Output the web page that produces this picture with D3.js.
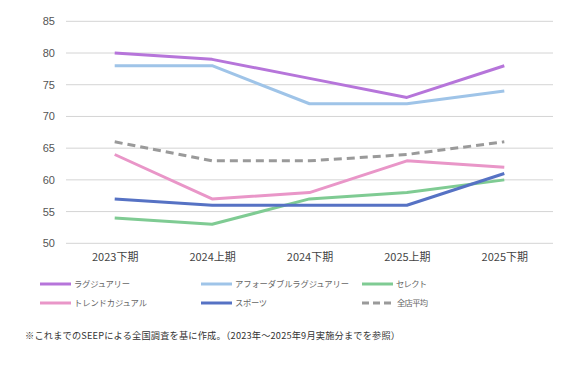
<!DOCTYPE html>
<html><head><meta charset="utf-8">
<script src="https://cdn.jsdelivr.net/npm/d3@7"></script>
<style>body{margin:0;background:#fff}svg{display:block}</style>
</head><body>
<svg id="c" width="575" height="367"></svg>
<script>
const categories = ["2023下期","2024上期","2024下期","2025上期","2025下期"];
const seriesNames = ["ラグジュアリー","アフォーダブルラグジュアリー","セレクト","トレンドカジュアル","スポーツ","全店平均"];
const luxury = [80,79,76,73,78];
const affordable = [78,78,72,72,74];
const select = [54,53,57,58,60];
const trendCasual = [64,57,58,63,62];
const sports = [57,56,56,56,61];
const average = [66,63,63,64,66];
const yTicks = [50,55,60,65,70,75,80,85];
const colors = ["#b675da","#9fc4e8","#7fcb93","#e996c8","#5672c4","#9a9a9a"];
const note = "※これまでのSEEPによる全国調査を基に作成。（2023年～2025年9月実施分までを参照）";

const series = [luxury,affordable,select,trendCasual,sports,average];
const svg = d3.select("#c");
const font = "'Noto Sans CJK JP','Noto Sans',sans-serif";
const x = d3.scalePoint().domain(categories).range([66,553]).padding(0.5);
const y = d3.scaleLinear().domain([50,85]).range([243.3,21.3]);

// grid
svg.append("g").selectAll("line").data(yTicks).join("line")
  .attr("x1",66).attr("x2",553)
  .attr("y1",d=>y(d)).attr("y2",d=>y(d))
  .attr("stroke","#d4d4d4").attr("stroke-width",1);

const yAxis = svg.append("g").attr("transform","translate(66,0)")
  .call(d3.axisLeft(y).tickValues(yTicks).tickSize(0).tickPadding(11));
yAxis.select(".domain").remove();
yAxis.selectAll("text").attr("font-family","'Helvetica Neue',Arial,'Liberation Sans',sans-serif").attr("font-size",11).attr("fill","#555");

const xAxis = svg.append("g").attr("transform","translate(0,243.3)")
  .call(d3.axisBottom(x).tickSize(0).tickPadding(10));
xAxis.select(".domain").remove();
xAxis.selectAll("text").attr("font-family",font).attr("font-size",11).attr("fill","#444");

const line = d3.line().x((d,i)=>x(categories[i])).y(d=>y(d));
series.forEach((s,k)=>{
  svg.append("path").attr("d",line(s)).attr("fill","none")
    .attr("stroke",colors[k]).attr("stroke-width",3)
    .attr("stroke-linejoin","round")
    .attr("stroke-dasharray",k===5?"8,5":null);
});

// legend
const legPos = [[40,284],[201,284],[362,284],[40,303],[201,303],[362,303]];
const legLen = [56,114,31,73,32,31];
seriesNames.forEach((n,k)=>{
  const [lx,ly]=legPos[k];
  svg.append("line").attr("x1",lx).attr("x2",lx+31).attr("y1",ly).attr("y2",ly)
    .attr("stroke",colors[k]).attr("stroke-width",3)
    .attr("stroke-dasharray",k===5?"7,4":null);
  svg.append("text").attr("x",lx+(k===5?35:34)).attr("y",ly).attr("dy","0.35em")
    .attr("font-family",font).attr("font-size",8.3).attr("fill","#666")
    .attr("textLength",legLen[k]).attr("lengthAdjust","spacing")
    .text(n);
});

svg.append("text").attr("x",25).attr("y",336).attr("dy","0.35em")
  .attr("font-family",font).attr("font-size",9.2).attr("fill","#333")
  .attr("textLength",375).attr("lengthAdjust","spacing")
  .text(note);
</script>
</body></html>
